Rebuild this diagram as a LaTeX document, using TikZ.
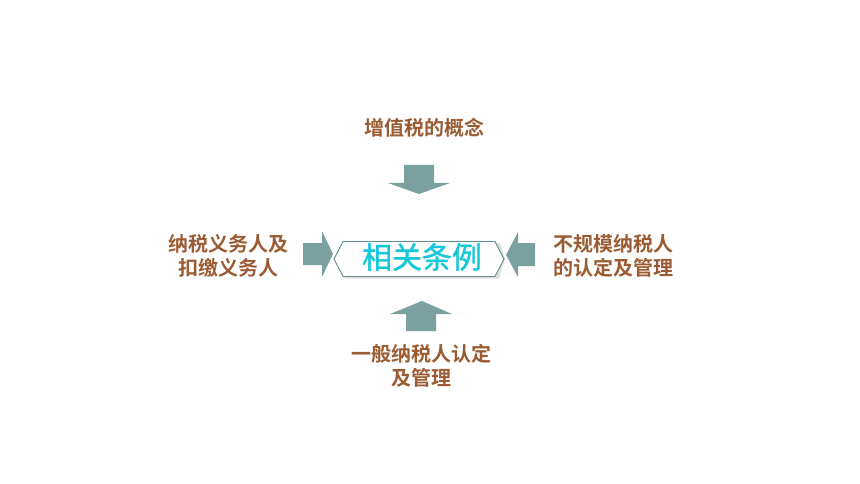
\documentclass[tikz,border=0pt]{standalone}
\usepackage{fontspec}
\newfontfamily\cjkb{Noto Sans CJK SC Bold}
\newfontfamily\cjk[FakeBold=1.2]{Noto Sans CJK SC}
\usetikzlibrary{shapes.symbols}
\definecolor{txtbrown}{RGB}{155,92,52}
\definecolor{arrowteal}{RGB}{122,160,160}
\definecolor{boxedge}{RGB}{95,140,140}
\definecolor{titlecyan}{RGB}{20,200,218}
\tikzset{
  label/.style={font=\cjkb\fontsize{20}{23.5}\selectfont, text=txtbrown, align=center, inner sep=0pt},
  blockarrow/.style={fill=arrowteal, draw=none},
  centerbox/.style={signal, signal to=west and east, signal pointer angle=125,
    draw=boxedge, line width=0.9pt, fill=white, minimum width=170pt, minimum height=35pt,
    inner sep=0pt}
}
\begin{document}
\begin{tikzpicture}[x=1pt,y=-1pt]
\useasboundingbox (0,0) rectangle (860,484);
\fill[white] (0,0) rectangle (860,484);
% shadow of center box
\fill[gray!25] (335,259) -- (344,243) -- (500,243) -- (505,259) -- (499,278.5) -- (345,278.5) -- cycle;
\node[centerbox] (center) at (419,259) {};
\node[font=\cjk\fontsize{30}{32}\selectfont, text=titlecyan, inner sep=0pt] (title) at (422,257) {相关条例};
% arrows
\fill[blockarrow] (404,165) -- (434,165) -- (434,183) -- (450,183) -- (419,194) -- (388,183) -- (404,183) -- cycle;
\fill[blockarrow] (406,331) -- (436,331) -- (436,314) -- (452,314) -- (422,301) -- (390,314) -- (406,314) -- cycle;
\fill[blockarrow] (303,243) -- (322,243) -- (322,231) -- (333,254) -- (322,277) -- (322,265) -- (303,265) -- cycle;
\fill[blockarrow] (535,243) -- (518,243) -- (518,232) -- (506,255) -- (518,277) -- (518,266) -- (535,266) -- cycle;
% labels
\node[label] (top) at (424,128) {增值税的概念};
\node[label] (left) at (228,256) {纳税义务人及\\扣缴义务人};
\node[label] (right) at (613,256) {不规模纳税人\\的认定及管理};
\node[label] (bottom) at (421,366) {一般纳税人认定\\及管理};
\end{tikzpicture}
\end{document}
